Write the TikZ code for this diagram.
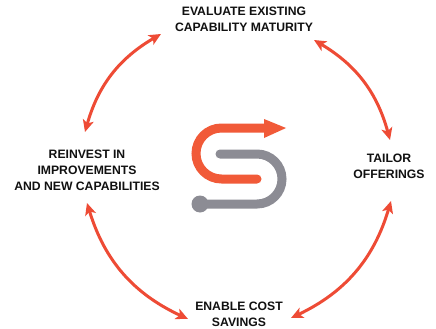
\documentclass[tikz,border=0pt]{standalone}
\usepackage{fontspec}
\setmainfont{Liberation Sans}
\usetikzlibrary{arrows.meta}
\definecolor{arrowred}{HTML}{EE4B35}
\definecolor{logoorange}{HTML}{F15A38}
\definecolor{logogray}{HTML}{8C8C94}
\definecolor{labelink}{HTML}{111111}
\tikzset{
  labeltext/.style={font=\bfseries\fontsize{12.2}{16}\selectfont, text=labelink, align=center, inner sep=0pt},
  cycle/.style={draw=arrowred, line width=3pt, {Stealth[length=12pt,width=11pt,inset=3pt]}-{Stealth[length=12pt,width=11pt,inset=3pt]}},
  logoline/.style={line width=9pt, line cap=round}
}
\begin{document}
\begin{tikzpicture}[x=1pt,y=-1pt]
\useasboundingbox (0,0) rectangle (436,329);
\fill[white] (0,0) rectangle (436,329);
\node[labeltext] (eval) at (244,19) {EVALUATE EXISTING\\CAPABILITY MATURITY};
\node[labeltext] (tailor) at (389,166) {TAILOR\\OFFERINGS};
\node[labeltext] (enable) at (239,314) {ENABLE COST\\SAVINGS};
\node[labeltext] (reinvest) at (87,170) {REINVEST IN\\IMPROVEMENTS\\AND NEW CAPABILITIES};
\coordinate (a1) at (85,132);
\coordinate (a2) at (161,34);
\coordinate (b1) at (314,40);
\coordinate (b2) at (390,140);
\coordinate (c1) at (391,201);
\coordinate (c2) at (291,318);
\coordinate (d1) at (188,319);
\coordinate (d2) at (87,203);
\draw[cycle] (a1) to[bend left=22] (a2);
\draw[cycle] (b1) to[bend left=22] (b2);
\draw[cycle] (c1) to[bend left=24] (c2);
\draw[cycle] (d1) to[bend left=24] (d2);
% logo
\coordinate (og0) at (257,179);
\coordinate (og1) at (264,128);
\coordinate (gr0) at (220,154);
\coordinate (gr1) at (200,204);
\draw[logoline, logogray] (gr0) -- (257,154) arc[start angle=-90, end angle=90, radius=25, y=-1pt] -- (gr1);
\fill[logogray] (gr1) circle[radius=8.5];
\draw[logoline, logoorange] (og0) -- (221.5,179) arc[start angle=90, end angle=270, radius=25.5] -- (og1);
\fill[logoorange] (264,119) -- (286,128) -- (264,138) -- cycle;
\end{tikzpicture}
\end{document}
